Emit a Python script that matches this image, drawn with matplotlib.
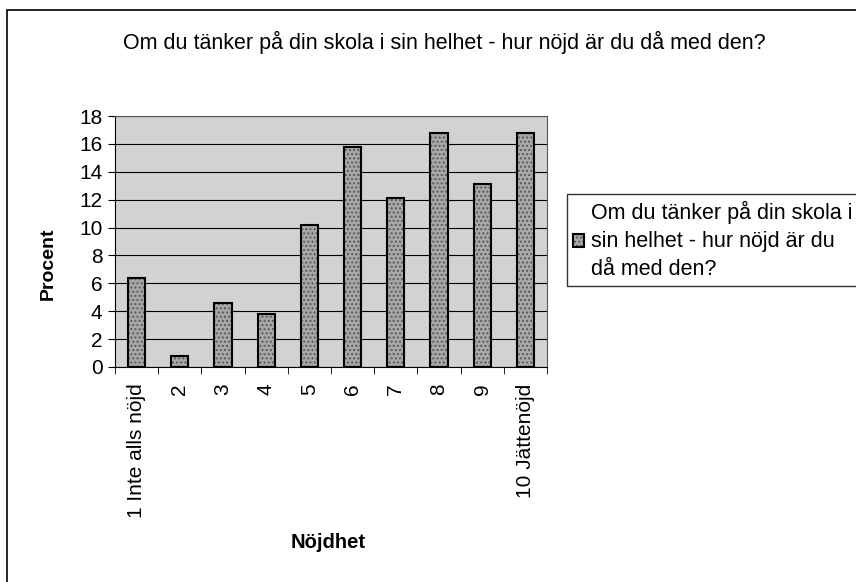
import matplotlib.pyplot as plt
from matplotlib.patches import Rectangle
import numpy as np

plt.rcParams['font.family'] = ['Liberation Sans', 'DejaVu Sans']

categorias = ['1 Inte alls nöjd', '2', '3', '4', '5', '6', '7', '8', '9', '10 Jättenöjd']
procent = [6.4, 0.8, 4.6, 3.8, 10.2, 15.8, 12.1, 16.8, 13.1, 16.8]
titulo = 'Om du tänker på din skola i sin helhet - hur nöjd är du då med den?'
legenda = 'Om du tänker på din skola i\nsin helhet - hur nöjd är du\ndå med den?'

fig = plt.figure(figsize=(8.56, 5.82), dpi=100)
W, H = 856, 582

# moldura externa
fig.patches.append(Rectangle((7 / W, -0.01), 1.02, 1 - 10 / H + 0.01,
                             transform=fig.transFigure, fill=False,
                             edgecolor='black', linewidth=1.2))

ax = fig.add_axes([115 / W, 1 - 367 / H, (547 - 115) / W, (367 - 116) / H])
ax.set_facecolor('#d2d2d2')

x = np.arange(len(categorias))
barras = ax.bar(x, procent, width=0.4, color='#a8a8a8', edgecolor='black',
                linewidth=1.5, zorder=3, hatch='....', label=legenda)
for b in barras:
    b._hatch_color = (0.35, 0.35, 0.35, 1)

ax.set_xlim(-0.5, len(categorias) - 0.5)
ax.set_ylim(0, 18)
ax.set_yticks(range(0, 19, 2))
ax.yaxis.grid(True, color='black', linewidth=0.8)
ax.set_axisbelow(True)
ax.set_xticks(x)
ax.set_xticklabels(categorias, rotation=90, fontsize=15)
ax.tick_params(axis='x', length=0, pad=12)
ax.set_xticks(np.arange(-0.5, len(categorias)), minor=True)
ax.tick_params(axis='x', which='minor', length=5, direction='out')
ax.tick_params(axis='y', labelsize=15, length=5, direction='out', pad=4)
for s in ax.spines.values():
    s.set_color('#555555')
    s.set_linewidth(0.8)
ax.spines['left'].set_color('black')
ax.spines['bottom'].set_color('black')

fig.text(48 / W, 1 - 264 / H, 'Procent', fontsize=14, fontweight='bold',
         rotation=90, ha='center', va='center')
fig.text(328 / W, 1 - 542 / H, 'Nöjdhet', fontsize=14.5, fontweight='bold',
         ha='center', va='center')
fig.text(444 / W, 1 - 42 / H, titulo, fontsize=15.5, ha='center', va='center')

leg = fig.legend(loc='upper left', bbox_to_anchor=(567 / W, 1 - 194 / H),
                 fontsize=15.5, frameon=True, fancybox=False, handlelength=0.5,
                 handleheight=0.5, handletextpad=0.3, borderpad=0.3,
                 borderaxespad=0)
leg.get_texts()[0].set_linespacing(1.45)
leg.get_frame().set_edgecolor('black')
leg.get_frame().set_linewidth(1.0)

fig.savefig('out.png', dpi=100, facecolor='white')
